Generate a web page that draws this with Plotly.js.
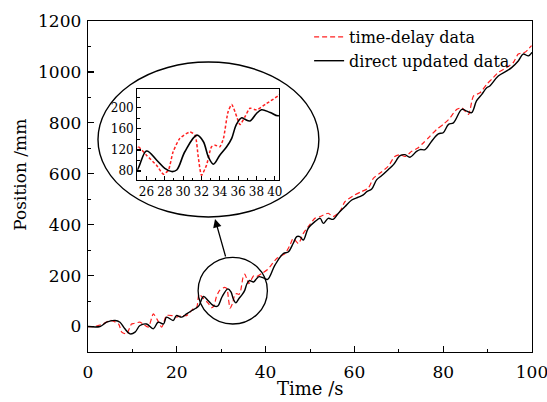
<!DOCTYPE html>
<html>
<head>
<meta charset="utf-8">
<script src="https://cdn.plot.ly/plotly-3.0.1.min.js"></script>
<style>html,body{margin:0;padding:0;background:#fff}#chart{width:547px;height:402px}</style>
</head>
<body>
<div id="chart"></div>
<script>
// Direct updated data (black solid)
var directTime = [0,2.7,4.2,6.1,7.2,8.3,9.5,10.6,11.7,13.2,14.7,15.8,17,17.7,19.2,19.9,21.1,22.2,23.4,24.3,
  25,26,27.1,28,28.75,29.3,30.2,31.5,32.2,32.75,33.3,34,34.75,35.3,35.8,36.4,36.75,37.3,38,38.55,
  39.5,40.45,42.1,44,45.1,46.2,47,47.7,48.5,49.6,51.1,52.3,53,54.1,55.2,56.4,57.9,59.4,60.9,62,
  62.8,63.9,65,66.1,67.6,68.8,70.3,71.4,72.5,74,74.8,75.9,77.4,78.9,80,81.2,82.3,84.2,85.3,86.4,
  87.5,88.7,89.8,90.5,92.4,94.3,95.4,96.9,98,99.2,100];
var directPos = [0,0,17,24,17,-9,-29,-22,4,10,-9,17,10,37,24,43,37,50,63,72,
  82,118,101,85,79,82,117,148,136,107,93,110,126,142,168,181,178,175,189,196,
  191,185,241,287,293,326,353,353,340,386,412,425,405,425,421,445,471,497,508,517,
  530,540,576,592,616,636,671,675,665,688,695,695,728,757,761,794,800,853,846,840,
  886,912,938,945,984,1004,1017,1043,1070,1063,1077];
// Time-delay data (red dashed)
var delayTime = [0,1.5,3.4,5,6.9,7.6,8.7,9.8,10.3,11.7,12.4,13.6,14.7,15.5,16.6,17.7,18.9,19.9,21.1,22.2,
  23.7,24.5,25,26,27.1,27.85,28.4,28.9,29.65,30.75,31.3,31.65,32,32.55,33.1,33.5,34,34.4,34.9,35.3,
  35.85,36.2,36.75,37.3,38,39.1,40.45,42.5,44.4,45.5,46.2,47.4,48.5,49.6,51.1,52.3,54.1,55.2,56.7,57.9,
  60.1,61.6,63.1,64.3,65.8,67.6,69.1,70.3,71.4,72.9,74.3,75.5,77,78.5,80,81.2,83.1,84.2,85.7,86.8,
  88.3,89.8,90.9,92.4,94.3,95.8,96.9,98.4,99.9];
var delayPos = [0,0,10,24,10,-22,-29,10,12,17,10,-2,50,30,-2,43,43,37,43,43,
  70,76,127,110,91,74,82,116,142,154,148,107,72,91,126,129,126,142,192,206,
  183,168,183,199,196,208,224,267,287,320,346,326,366,392,425,432,445,432,451,491,
  517,530,543,583,603,629,668,675,668,688,701,721,747,774,794,813,853,859,833,905,
  918,951,971,998,1017,1037,1070,1077,1103];
var seriesNames = ['time-delay data', 'direct updated data'];
var mainXTicks = [0,20,40,60,80,100];
var mainYTicks = [0,200,400,600,800,1000,1200];
var insetXTicks = [26,28,30,32,34,36,38,40];
var insetYTicks = [80,120,160,200];

var F = 'DejaVu Serif, serif';
var traces = [
  {x: delayTime, y: delayPos, name: seriesNames[0], type: 'scatter', mode: 'lines',
   line: {color: '#ff2020', width: 1.2, dash: '5px,3px', shape: 'spline', smoothing: 0.6}},
  {x: directTime, y: directPos, name: seriesNames[1], type: 'scatter', mode: 'lines',
   line: {color: '#000000', width: 1.4, shape: 'spline', smoothing: 1}},
  {x: delayTime, y: delayPos, xaxis: 'x2', yaxis: 'y2', showlegend: false, type: 'scatter', mode: 'lines',
   line: {color: '#ff2020', width: 1.5, dash: '3px,2px', shape: 'spline', smoothing: 0.6}},
  {x: directTime, y: directPos, xaxis: 'x2', yaxis: 'y2', showlegend: false, type: 'scatter', mode: 'lines',
   line: {color: '#000000', width: 1.6, shape: 'spline', smoothing: 1}}
];

var axBase = {showgrid: false, zeroline: false, showline: true, linecolor: '#000', linewidth: 1.3,
  mirror: true, ticks: 'inside', tickcolor: '#000', tickwidth: 1.2};

var layout = {
  width: 547, height: 402,
  margin: {l: 88, r: 15, t: 21, b: 50},
  paper_bgcolor: '#fff', plot_bgcolor: '#fff',
  font: {family: F, color: '#000', size: 17},
  showlegend: true,
  legend: {x: 0.498, y: 1.003, xanchor: 'left', yanchor: 'top', bgcolor: 'rgba(0,0,0,0)',
    font: {family: F, size: 16, color: '#000'}, tracegroupgap: 0},
  xaxis: Object.assign({}, axBase, {range: [0, 100], tickvals: mainXTicks, ticklen: 6,
    tickfont: {family: F, size: 17}, ticklabelstandoff: 4, ticklabeloverflow: 'allow',
    minor: {dtick: 10, ticks: 'inside', ticklen: 3, tickcolor: '#000', tickwidth: 1}}),
  yaxis: Object.assign({}, axBase, {range: [-100, 1200], tickvals: mainYTicks, ticklen: 6,
    tickfont: {family: F, size: 17}, ticklabelstandoff: 2, ticklabeloverflow: 'allow',
    minor: {dtick: 100, tick0: 0, ticks: 'inside', ticklen: 3, tickcolor: '#000', tickwidth: 1}}),
  xaxis2: Object.assign({}, axBase, {domain: [0.111, 0.430], anchor: 'y2', range: [25, 40.45],
    tickvals: insetXTicks, ticklen: 4, linewidth: 1.2, tickfont: {family: F, size: 12},
    ticklabelstandoff: 0, ticklabeloverflow: 'allow',
    minor: {dtick: 1, ticks: 'inside', ticklen: 2.5, tickcolor: '#000', tickwidth: 1}}),
  yaxis2: Object.assign({}, axBase, {domain: [0.5196, 0.7946], anchor: 'x2', range: [63, 235.5],
    tickvals: insetYTicks, ticklen: 4, linewidth: 1.2, tickfont: {family: F, size: 12},
    ticklabelstandoff: 0, ticklabeloverflow: 'allow',
    minor: {dtick: 20, tick0: 0, ticks: 'inside', ticklen: 2.5, tickcolor: '#000', tickwidth: 1}}),
  shapes: [
    {type: 'circle', xref: 'paper', yref: 'paper', x0: 0.0225, x1: 0.520, y0: 0.408, y1: 0.876,
     line: {color: '#000', width: 1.4}},
    {type: 'circle', xref: 'x', yref: 'y', x0: 24.8, x1: 40.4, y0: 10, y1: 272,
     line: {color: '#000', width: 1.3}}
  ],
  annotations: [
    {xref: 'paper', yref: 'paper', x: (215 - 88) / 444, y: (352 - 219) / 331, ax: 11, ay: 39,
     axref: 'pixel', ayref: 'pixel', showarrow: true, arrowhead: 2, arrowsize: 1.3, arrowwidth: 1.3,
     arrowcolor: '#000', text: ''},
    {xref: 'paper', yref: 'paper', x: 0.5, y: (352 - 388) / 331, text: 'Time /s', showarrow: false,
     font: {family: F, size: 18}, xanchor: 'center', yanchor: 'middle'},
    {xref: 'paper', yref: 'paper', x: -0.153, y: 0.536, text: 'Position /mm', showarrow: false,
     textangle: -90, font: {family: F, size: 17}, xanchor: 'center', yanchor: 'middle'}
  ]
};

Plotly.newPlot('chart', traces, layout, {staticPlot: true, displayModeBar: false});
</script>
</body>
</html>
